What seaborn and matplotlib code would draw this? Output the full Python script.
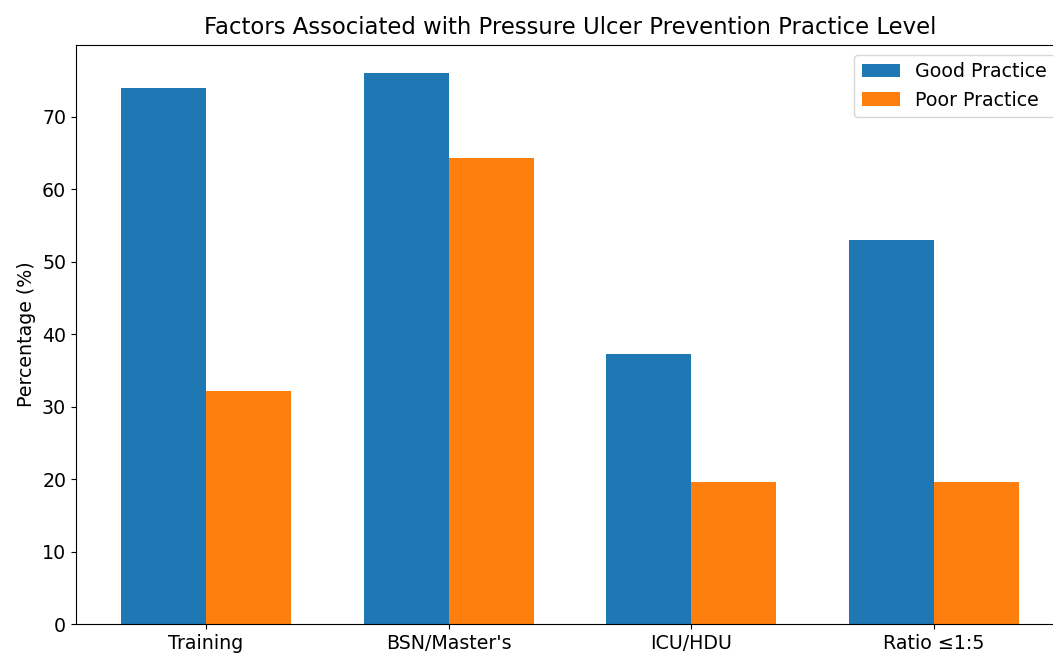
import pandas as pd
import seaborn as sns
import matplotlib
matplotlib.use("Agg")
import matplotlib.pyplot as plt

# values
factors = ["Training", "BSN/Master's", "ICU/HDU", "Ratio \u22641:5"]
good_practice = [73.9, 76.1, 37.3, 53.0]
poor_practice = [32.1, 64.3, 19.6, 19.6]
groups = ["Good Practice", "Poor Practice"]
colors = ["#1f77b4", "#ff7f0e"]

df = pd.DataFrame({
    "factor": factors * 2,
    "pct": good_practice + poor_practice,
    "group": [groups[0]] * len(factors) + [groups[1]] * len(factors),
})

fig = plt.figure(figsize=(10.53, 6.55), dpi=100)
ax = fig.add_axes([76 / 1053, 31 / 655, 988 / 1053, 579 / 655])

sns.barplot(data=df, x="factor", y="pct", hue="group", palette=colors,
            width=0.7, saturation=1, gap=0, ax=ax)

ax.set_xlim(-0.535, 3.535)
ax.set_ylim(0, 79.9)
ax.set_xlabel("")
ax.set_ylabel("Percentage (%)", fontsize=13.7)
ax.set_title("Factors Associated with Pressure Ulcer Prevention Practice Level",
             fontsize=16.4, pad=8)
ax.tick_params(labelsize=13.7)

handles, labels = ax.get_legend_handles_labels()
ax.legend(handles, labels, loc="upper right", fontsize=13.7, title=None)

fig.savefig("out.png", dpi=100)
